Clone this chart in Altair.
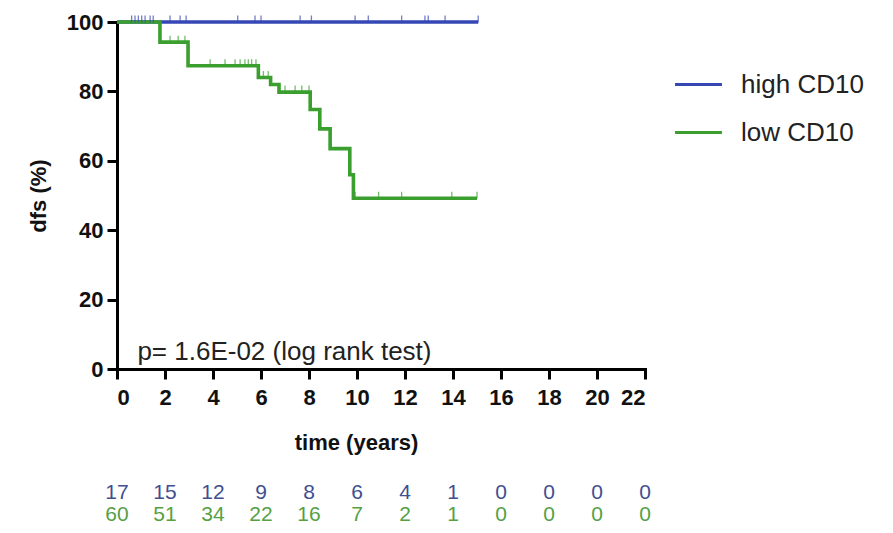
import altair as alt
import pandas as pd

# ---------------- data ----------------
groups = ["high CD10", "low CD10"]
line_colors = ["#3447b4", "#3a9f2f"]
risk_colors = ["#3f4f8f", "#56a044"]

high_t = [0, 15.05]
high_s = [100, 100]
low_t = [0, 1.79, 2.96, 5.89, 6.4, 6.75, 8.05, 8.45, 8.88, 9.7, 9.85, 15.0]
low_s = [100, 94.2, 87.4, 84.0, 82.0, 79.8, 74.8, 69.2, 63.5, 56.0, 49.2, 49.2]

high_cens = [0.61, 0.75, 0.89, 1.03, 1.17, 1.38, 1.51, 2.21, 2.63, 2.88, 5.03,
             5.75, 6.0, 7.63, 8.1, 9.92, 10.47, 11.86, 12.83, 12.97, 13.67, 15.05]
low_cens = [2.21, 2.55, 2.83, 3.88, 4.5, 4.92, 5.13, 5.33, 5.47, 5.61, 5.79,
            6.1, 6.3, 7.0, 7.42, 7.7, 8.0, 9.92, 10.9, 11.86, 13.95, 15.0]

risk_times = [0, 2, 4, 6, 8, 10, 12, 14, 16, 18, 20, 22]
risk_high = [17, 15, 12, 9, 8, 6, 4, 1, 0, 0, 0, 0]
risk_low = [60, 51, 34, 22, 16, 7, 2, 1, 0, 0, 0, 0]

p_label = "p= 1.6E-02 (log rank test)"


def step_value(ts, ss, t):
    v = ss[0]
    for ti, si in zip(ts, ss):
        if ti <= t:
            v = si
    return v


lines_df = pd.DataFrame(
    [{"t": t, "s": s, "group": groups[0]} for t, s in zip(high_t, high_s)]
    + [{"t": t, "s": s, "group": groups[1]} for t, s in zip(low_t, low_s)]
)
cens_df = pd.DataFrame(
    [{"t": t, "s": step_value(high_t, high_s, t), "group": groups[0]} for t in high_cens]
    + [{"t": t, "s": step_value(low_t, low_s, t), "group": groups[1]} for t in low_cens]
)
risk_df = pd.DataFrame(
    [{"t": t, "row": 0, "n": str(n), "group": groups[0]} for t, n in zip(risk_times, risk_high)]
    + [{"t": t, "row": 1, "n": str(n), "group": groups[1]} for t, n in zip(risk_times, risk_low)]
)
p_df = pd.DataFrame([{"t": 0.85, "s": 2.5, "label": p_label}])

FONT = "Liberation Sans"

x_axis = alt.Axis(
    values=risk_times, title="time (years)", labelPadding=8, tickSize=10,
    titleX=239, titleY=80, titleBaseline="alphabetic", titleAlign="center",
)
x_enc = alt.X("t:Q", scale=alt.Scale(domain=[0, 22], nice=False, zero=True), axis=x_axis)
y_enc = alt.Y(
    "s:Q",
    scale=alt.Scale(domain=[0, 100], nice=False),
    axis=alt.Axis(values=[0, 20, 40, 60, 80, 100], title="dfs (%)", titlePadding=16,
                  labelPadding=4, tickSize=10),
)
color_enc = alt.Color(
    "group:N",
    scale=alt.Scale(domain=groups, range=line_colors),
    legend=alt.Legend(
        title=None, orient="none", legendX=556, legendY=37,
        symbolType="stroke", symbolSize=2200, symbolStrokeWidth=3.2, symbolOpacity=1,
        labelFontSize=26, labelFont=FONT, labelColor="#222", labelOffset=17,
        rowPadding=9,
    ),
)

lines = alt.Chart(lines_df).mark_line(interpolate="step-after", strokeWidth=3.6).encode(
    x=x_enc, y=y_enc, color=color_enc
)
ticks = alt.Chart(cens_df).mark_tick(orient="vertical", size=7, thickness=1.3, yOffset=-3).encode(
    x=x_enc, y=y_enc, color=color_enc
)
ptext = alt.Chart(p_df).mark_text(
    align="left", baseline="alphabetic", fontSize=26, font=FONT, color="#222"
).encode(x=x_enc, y=y_enc, text="label:N")

inner = alt.layer(lines, ticks, ptext)

risk = alt.Chart(risk_df).mark_text(
    align="center", baseline="middle", fontSize=21, font=FONT
).encode(
    x=x_enc,
    y=alt.Y("row:Q", scale=alt.Scale(domain=[0, 1], range=[471, 493]), axis=None),
    color=alt.Color("group:N", scale=alt.Scale(domain=groups, range=risk_colors), legend=None),
    text="n:N",
)

chart = (
    alt.layer(inner, risk)
    .resolve_scale(y="independent", color="independent")
    .properties(
        width=528, height=347,
        autosize=alt.AutoSizeParams(type="none"),
        padding={"left": 109, "top": 14, "right": 240, "bottom": 156},
    )
    .configure_view(stroke=None)
    .configure_axis(
        grid=False, domainColor="black", domainWidth=3, domainCap="square",
        tickColor="black", tickWidth=3,
        labelFont=FONT, labelFontWeight="bold", labelFontSize=22, labelColor="#111",
        titleFont=FONT, titleFontWeight="bold", titleFontSize=22, titleColor="#111",
    )
)

chart.save("out.html", embed_options={"renderer": "svg", "actions": False})
